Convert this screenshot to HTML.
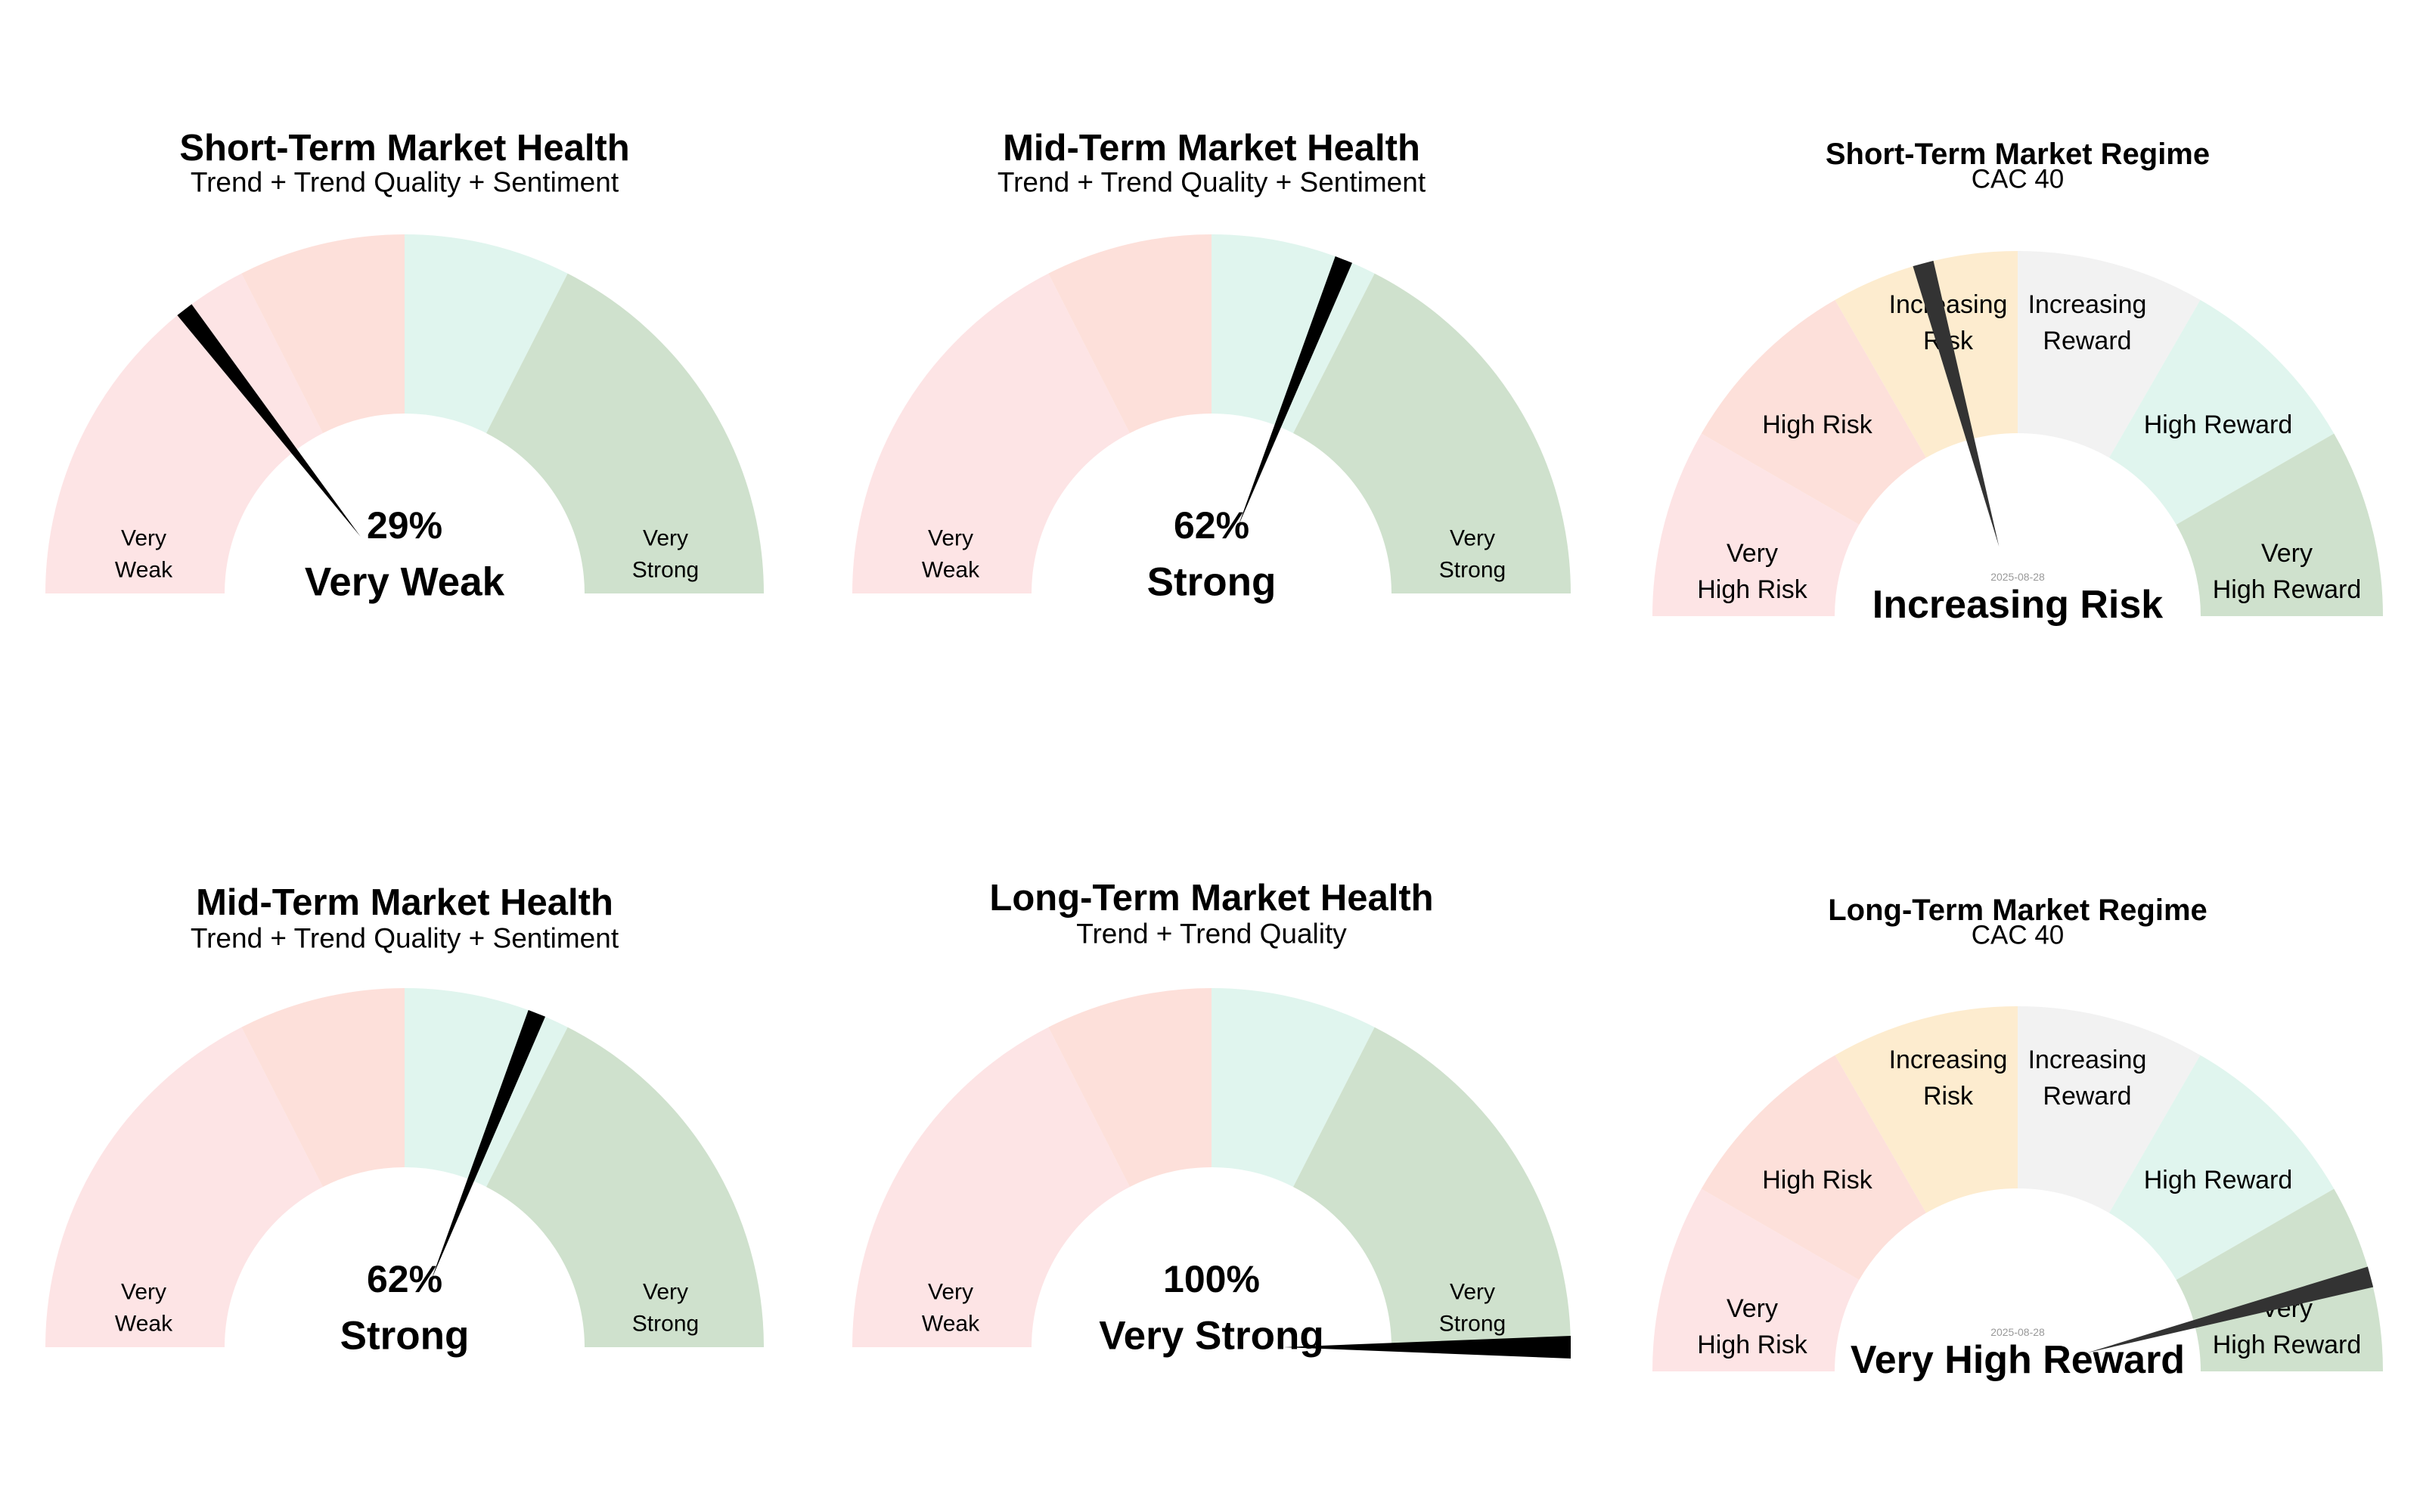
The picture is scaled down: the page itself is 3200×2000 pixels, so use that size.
<!DOCTYPE html>
<html><head><meta charset="utf-8"><title>Market Gauges</title>
<style>
html,body{margin:0;padding:0;background:#fff;}
svg{display:block;font-family:"Liberation Sans",Arial,sans-serif;}
</style></head>
<body>
<svg id="chart" width="3200" height="2000" viewBox="0 0 3200 2000" xmlns="http://www.w3.org/2000/svg"></svg>
<script>
// ---- data ----
const healthTitles = ["Short-Term Market Health","Mid-Term Market Health","Mid-Term Market Health","Long-Term Market Health"];
const healthSubtitles = ["Trend + Trend Quality + Sentiment","Trend + Trend Quality + Sentiment","Trend + Trend Quality + Sentiment","Trend + Trend Quality"];
const healthValues = [29, 62, 62, 100];
const healthLabels = ["Very Weak","Strong","Strong","Very Strong"];
const healthBreaks = [0, 35, 50, 65, 100];
const regimeTitles = ["Short-Term Market Regime","Long-Term Market Regime"];
const regimeSubtitles = ["CAC 40","CAC 40"];
const regimeCategories = ["Very\nHigh Risk","High Risk","Increasing\nRisk","Increasing\nReward","High Reward","Very\nHigh Reward"];
const regimeNames = ["Very High Risk","High Risk","Increasing Risk","Increasing Reward","High Reward","Very High Reward"];
const regimeIndex = [2, 5];
const regimeDates = ["2025-08-28","2025-08-28"];

// ---- layout ----
const healthColors = ["#fde4e5","#fde0da","#e0f5ee","#cfe1cd"];
const regimeColors = ["#fde4e5","#fde0da","#fdeccf","#f2f2f2","#e0f5ee","#cfe1cd"];
const healthPos = [[535,785,196,241],[1602,785,196,241],[535,1782,1194,1241],[1602,1782,1188,1235]];
const regimePos = [[2668,815,204,237],[2668,1814,1204,1237]];
const regimeLabelOff = [[-351,-59],[-265,-253],[-92,-388],[92,-388],[265,-253],[356,-59]];

const svg = document.getElementById('chart');
const NS = 'http://www.w3.org/2000/svg';
function mk(tag, attrs, parent){
  const e = document.createElementNS(NS, tag);
  for (const k in attrs) e.setAttribute(k, attrs[k]);
  (parent||svg).appendChild(e);
  return e;
}
function pt(cx, cy, r, deg){ const a = deg*Math.PI/180; return [cx + r*Math.cos(a), cy - r*Math.sin(a)]; }
function pctToDeg(v){ return 180 - v/100*180; }
function wedge(cx, cy, R, r, a0, a1){
  const p1 = pt(cx,cy,R,a0), p2 = pt(cx,cy,R,a1), p3 = pt(cx,cy,r,a1), p4 = pt(cx,cy,r,a0);
  const large = Math.abs(a0-a1) > 180 ? 1 : 0;
  return `M${p1[0]},${p1[1]} A${R},${R} 0 ${large} 1 ${p2[0]},${p2[1]} L${p3[0]},${p3[1]} A${r},${r} 0 ${large} 0 ${p4[0]},${p4[1]} Z`;
}
function needle(g, cx, cy, R, r0, deg, hw, color){
  const tip = pt(cx,cy,R,deg);
  const a = deg*Math.PI/180;
  const nx = Math.sin(a)*hw, ny = Math.cos(a)*hw;
  const base = pt(cx,cy,r0,deg);
  const el = mk('polygon', {points:`${tip[0]+nx},${tip[1]+ny} ${tip[0]-nx},${tip[1]-ny} ${base[0]},${base[1]}`, fill:color}, g);
  
  
}
function text(g, x, y, s, size, weight, fill, name){
  const t = mk('text', {x:x, y:y, 'font-size':size, 'font-weight':weight, fill:fill, 'text-anchor':'middle', 'dominant-baseline':'central'}, g);
  t.textContent = s;
  
  
  return t;
}

// health gauges
healthValues.forEach((v, i) => {
  const [cx, cy, ty, sy] = healthPos[i];
  const R = 475, r = 238;
  const g = mk('g', {});
  
  
  for (let s = 0; s < 4; s++){
    const p = mk('path', {d: wedge(cx, cy, R, r, pctToDeg(healthBreaks[s]), pctToDeg(healthBreaks[s+1])), fill: healthColors[s]}, g);
    
    
  }
  text(g, cx, ty, healthTitles[i], 49, 'bold', '#000', 'gauge-title');
  text(g, cx, sy, healthSubtitles[i], 37, 'normal', '#000', 'gauge-subtitle');
  text(g, cx-345, cy-73, 'Very', 30, 'normal', '#000', 'band-label');
  text(g, cx-345, cy-31, 'Weak', 30, 'normal', '#000', 'band-label');
  text(g, cx+345, cy-73, 'Very', 30, 'normal', '#000', 'band-label');
  text(g, cx+345, cy-31, 'Strong', 30, 'normal', '#000', 'band-label');
  needle(g, cx, cy, R, 95, pctToDeg(v), v >= 99 ? 15 : 12, '#000');
  text(g, cx, cy-90, v + '%', 50, 'bold', '#000', 'gauge-value');
  text(g, cx, cy-15, healthLabels[i], 53, 'bold', '#000', 'gauge-status');
});

// regime gauges
regimeIndex.forEach((idx, i) => {
  const [cx, cy, ty, sy] = regimePos[i];
  const R = 483, r = 242;
  const g = mk('g', {});
  
  
  const n = regimeCategories.length;
  for (let s = 0; s < n; s++){
    const p = mk('path', {d: wedge(cx, cy, R, r, 180 - s*180/n, 180 - (s+1)*180/n), fill: regimeColors[s]}, g);
    
    
  }
  text(g, cx, ty, regimeTitles[i], 40, 'bold', '#000', 'gauge-title');
  text(g, cx, sy, regimeSubtitles[i], 35, 'normal', '#000', 'gauge-subtitle');
  regimeCategories.forEach((c, s) => {
    const [dx, dy] = regimeLabelOff[s];
    const lines = c.split('\n');
    lines.forEach((ln, k) => {
      const yy = cy + dy + (lines.length === 2 ? (k === 0 ? -24 : 24) : 0);
      text(g, cx+dx, yy, ln, 34, 'normal', '#000', 'regime-band-label');
    });
  });
  needle(g, cx, cy, R, 95, 180 - (idx+0.5)*180/n, 14, '#333');
  text(g, cx, cy-52, regimeDates[i], 14, 'normal', '#999', 'gauge-date');
  text(g, cx, cy-15, regimeNames[idx], 52, 'bold', '#000', 'gauge-status');
});
</script>
</body></html>
